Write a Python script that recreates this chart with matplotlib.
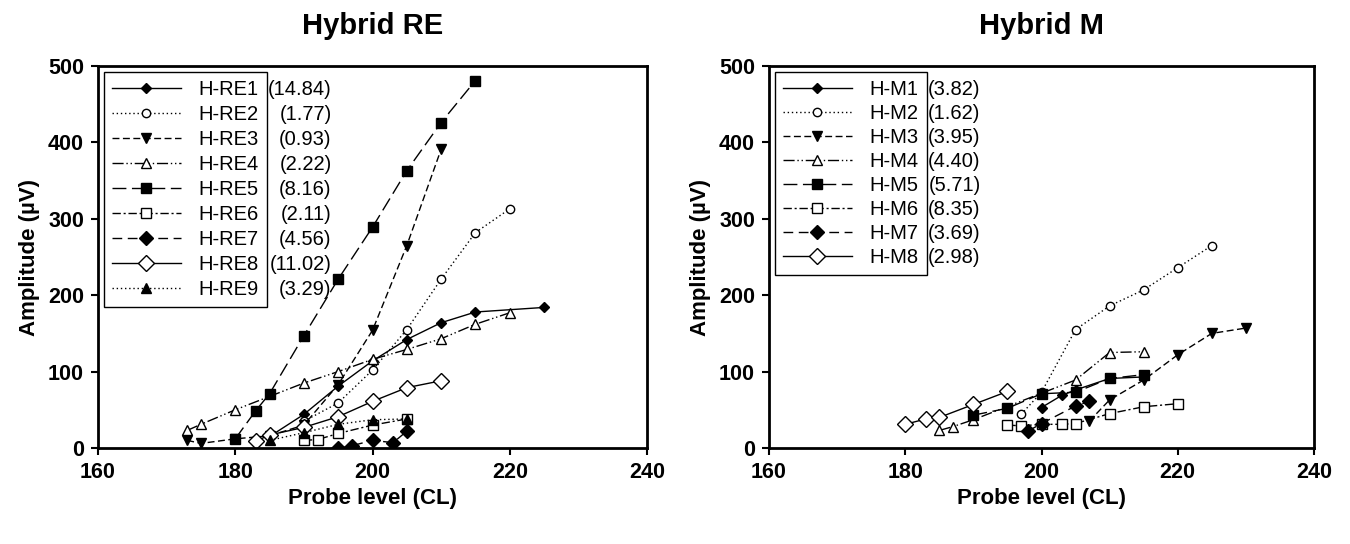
import matplotlib
matplotlib.use("Agg")
import matplotlib.pyplot as plt

plt.rcParams["font.family"] = ["Liberation Sans", "DejaVu Sans"]

# Hybrid RE series (probe level CL, amplitude uV)
re_names = ["H-RE1", "H-RE2", "H-RE3", "H-RE4", "H-RE5", "H-RE6", "H-RE7", "H-RE8", "H-RE9"]
re_vals = ["(14.84)", "(1.77)", "(0.93)", "(2.22)", "(8.16)", "(2.11)", "(4.56)", "(11.02)", "(3.29)"]
re1_x = [185, 190, 195, 200, 205, 210, 215, 225]
re1_y = [15, 44, 81, 114, 142, 164, 178, 184]
re2_x = [190, 195, 200, 205, 210, 215, 220]
re2_y = [35, 59, 102, 155, 221, 282, 313]
re3_x = [173, 175, 180, 185, 190, 195, 200, 205, 210]
re3_y = [10, 6, 12, 16, 30, 83, 154, 265, 391]
re4_x = [173, 175, 180, 190, 195, 200, 205, 210, 215, 220]
re4_y = [23, 31, 50, 85, 100, 116, 129, 143, 162, 177]
re5_x = [180, 183, 185, 190, 195, 200, 205, 210, 215]
re5_y = [12, 49, 71, 147, 221, 289, 363, 426, 481]
re6_x = [190, 192, 195, 200, 205]
re6_y = [10, 11, 19, 30, 38]
re7_x = [195, 197, 200, 203, 205]
re7_y = [0, 3, 10, 7, 22]
re8_x = [183, 185, 190, 195, 200, 205, 210]
re8_y = [9, 17, 27, 41, 61, 79, 88]
re9_x = [185, 190, 195, 200, 205]
re9_y = [10, 20, 31, 37, 38]

# Hybrid M series
m_names = ["H-M1", "H-M2", "H-M3", "H-M4", "H-M5", "H-M6", "H-M7", "H-M8"]
m_vals = ["(3.82)", "(1.62)", "(3.95)", "(4.40)", "(5.71)", "(8.35)", "(3.69)", "(2.98)"]
m1_x = [200, 203, 205, 210, 215]
m1_y = [53, 69, 76, 91, 93]
m2_x = [197, 200, 205, 210, 215, 220, 225]
m2_y = [44, 73, 155, 186, 207, 236, 265]
m3_x = [207, 210, 215, 220, 225, 230]
m3_y = [35, 63, 89, 122, 150, 157]
m4_x = [185, 187, 190, 205, 210, 215]
m4_y = [23, 28, 37, 89, 125, 126]
m5_x = [190, 195, 200, 205, 210, 215]
m5_y = [43, 52, 71, 73, 91, 96]
m6_x = [195, 197, 200, 203, 205, 210, 215, 220]
m6_y = [30, 29, 31, 31, 32, 45, 54, 58]
m7_x = [198, 200, 205, 207]
m7_y = [22, 32, 55, 61]
m8_x = [180, 183, 185, 190, 195]
m8_y = [31, 38, 40, 57, 74]

x_ticks = [160, 180, 200, 220, 240]
y_ticks = [0, 100, 200, 300, 400, 500]

# line style / marker for series 1..9 (same scheme in both panels)
styles = [
    dict(ls="-", marker="D", ms=5, mfc="black"),
    dict(ls=(0, (1, 2)), marker="o", ms=6, mfc="white"),
    dict(ls=(0, (5, 2.5)), marker="v", ms=7, mfc="black"),
    dict(ls=(0, (8, 2, 1, 2, 1, 2)), marker="^", ms=7, mfc="white"),
    dict(ls=(0, (10, 4)), marker="s", ms=7, mfc="black"),
    dict(ls=(0, (6, 2, 1.5, 2)), marker="s", ms=7, mfc="white"),
    dict(ls=(0, (7, 4)), marker="D", ms=7, mfc="black"),
    dict(ls="-", marker="D", ms=8, mfc="white"),
    dict(ls=(0, (1, 2)), marker="^", ms=7, mfc="black"),
]

fig = plt.figure(figsize=(13.5, 5.44), dpi=100)
ax1 = fig.add_axes([98 / 1350, 96 / 544, 549 / 1350, 382 / 544])
ax2 = fig.add_axes([769 / 1350, 96 / 544, 545 / 1350, 382 / 544])

re_data = [(re1_x, re1_y), (re2_x, re2_y), (re3_x, re3_y), (re4_x, re4_y), (re5_x, re5_y),
           (re6_x, re6_y), (re7_x, re7_y), (re8_x, re8_y), (re9_x, re9_y)]
m_data = [(m1_x, m1_y), (m2_x, m2_y), (m3_x, m3_y), (m4_x, m4_y), (m5_x, m5_y),
          (m6_x, m6_y), (m7_x, m7_y), (m8_x, m8_y)]

legends = []
for ax, data, names, title, lsp in [(ax1, re_data, re_names, "Hybrid RE", 0.3),
                                    (ax2, m_data, m_names, "Hybrid M", 0.25)]:
    for (x, y), name, st in zip(data, names, styles):
        ax.plot(x, y, color="black", lw=1.0, ls=st["ls"], marker=st["marker"],
                ms=st["ms"], mfc=st["mfc"], mec="black", mew=1.0, label=name)
    ax.set_xlim(160, 240)
    ax.set_ylim(0, 500)
    ax.set_xticks(x_ticks)
    ax.set_yticks(y_ticks)
    ax.tick_params(direction="out", length=5, width=1.5, labelsize=15.5, pad=5)
    for lab in ax.get_xticklabels() + ax.get_yticklabels():
        lab.set_fontweight("bold")
    for sp in ax.spines.values():
        sp.set_linewidth(2)
    ax.set_xlabel("Probe level (CL)", fontsize=16, fontweight="bold", labelpad=4)
    ax.set_ylabel("Amplitude (µV)", fontsize=16, fontweight="bold", labelpad=6)
    ax.set_title(title, fontsize=21, fontweight="bold", pad=23)
    leg = ax.legend(loc="upper left", fontsize=14.5, frameon=True, fancybox=False,
                    edgecolor="black", framealpha=1, handlelength=3.4, handletextpad=0.9,
                    labelspacing=lsp, borderpad=0.4, borderaxespad=0.3, numpoints=1)
    leg.get_frame().set_linewidth(1.0)
    legends.append(leg)

# values in parentheses sit just outside the legend box, right aligned
fig.canvas.draw()
renderer = fig.canvas.get_renderer()
for leg, vals in zip(legends, [re_vals, m_vals]):
    frame = leg.get_frame().get_window_extent(renderer)
    texts = leg.get_texts()
    tmp = [fig.text(0, 0, v, fontsize=14.5) for v in vals]
    widths = [t.get_window_extent(renderer).width for t in tmp]
    for t in tmp:
        t.remove()
    xr = frame.x1 + max(widths) + 1
    for t, v in zip(texts, vals):
        bb = t.get_window_extent(renderer)
        yc = (bb.y0 + bb.y1) / 2
        fig.text(xr / fig.bbox.width, yc / fig.bbox.height, v, fontsize=14.5,
                 ha="right", va="center")

fig.savefig("out.png", dpi=100)
